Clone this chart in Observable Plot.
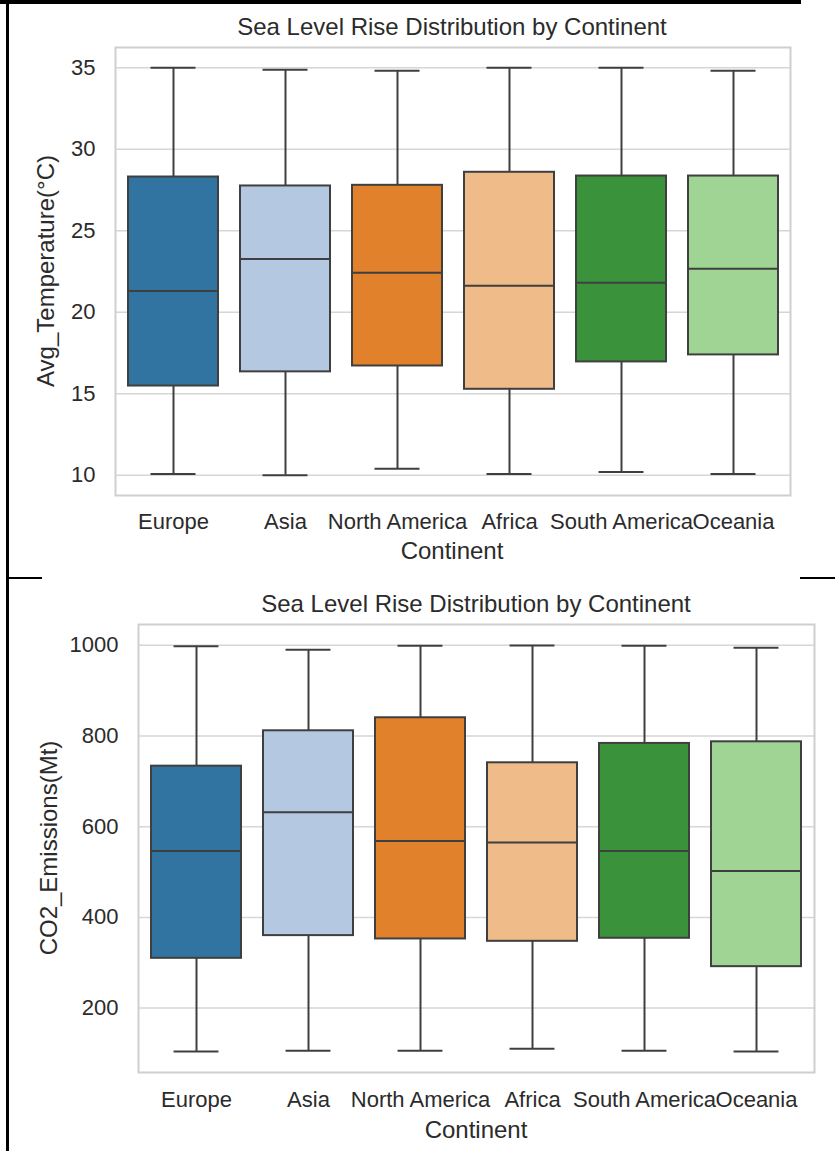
<!DOCTYPE html>
<html>
<head>
<meta charset="utf-8">
<script src="https://cdn.jsdelivr.net/npm/d3@7"></script>
<script src="https://cdn.jsdelivr.net/npm/@observablehq/plot@0.6"></script>
<style>
  html, body { margin: 0; padding: 0; background: #fff; }
  #page { position: relative; width: 835px; height: 1151px; overflow: hidden; background: #fff;
          font-family: "Liberation Sans", Arial, sans-serif; color: #2b2b2b; }
  .chart { position: absolute; left: 0; }
  .txt { position: absolute; white-space: nowrap; font-size: 24px; line-height: 1; transform: translate(-50%, -50%); }
  .ytxt { position: absolute; white-space: nowrap; font-size: 24px; line-height: 1; transform: translate(-50%, -50%) rotate(-90deg); }
  .rule { position: absolute; background: #000; }
</style>
</head>
<body>
<div id="page"></div>
<script>
// Continents, in drawing order
const continents = ["Europe", "Asia", "North America", "Africa", "South America", "Oceania"];

// Average temperature (°C): whisker ends, quartiles and median per continent
const tempMin    = [10.07, 10.00, 10.39, 10.07, 10.19, 10.07];
const tempQ1     = [15.47, 16.34, 16.70, 15.27, 16.95, 17.38];
const tempMedian = [21.31, 23.26, 22.42, 21.62, 21.81, 22.67];
const tempQ3     = [28.30, 27.75, 27.79, 28.59, 28.36, 28.36];
const tempMax    = [35.00, 34.88, 34.82, 35.00, 35.00, 34.82];
const tempTicks  = [10, 15, 20, 25, 30, 35];

// CO2 emissions (Mt): whisker ends, quartiles and median per continent
const co2Min    = [104.5, 106.0, 106.0, 110.4, 106.0, 104.5];
const co2Q1     = [309.8, 359.9, 352.5, 347.3, 354.0, 291.4];
const co2Median = [546.7, 632.1, 568.8, 565.1, 546.7, 502.6];
const co2Q3     = [733.6, 811.6, 840.3, 741.0, 783.7, 787.3];
const co2Max    = [997.8, 990.4, 999.3, 999.8, 999.3, 994.8];
const co2Ticks  = [200, 400, 600, 800, 1000];

// Box fills (muted tab20 pairs)
const palette = ["#3274a1", "#b5c8e1", "#e1812c", "#eebb89", "#3a923a", "#9fd495"];

const page = document.getElementById("page");
const LINE = "#3f3f3f";
const LW = 2;

function boxChart({min, q1, median, q3, max, yDomain, yTicks, top, height, marginTop, marginBottom, marginLeft, marginRight, xPad}) {
  const width = 835;
  const rows = continents.map((c, i) => ({continent: c, min: min[i], q1: q1[i], median: median[i], q3: q3[i], max: max[i]}));
  const step = (width - marginLeft - marginRight) / continents.length;
  const capInset = step * 0.8 / 4;
  const svg = Plot.plot({
    width, height, marginTop, marginBottom, marginLeft, marginRight,
    style: {fontFamily: '"Liberation Sans", Arial, sans-serif', fontSize: "22px", color: "#2b2b2b", background: "transparent", overflow: "visible"},
    x: {type: "band", domain: continents, paddingInner: 0.2, paddingOuter: 0.1, label: null},
    y: {domain: yDomain, label: null},
    color: {domain: continents, range: palette},
    marks: [
      Plot.gridY(yTicks, {stroke: "#d6d6d6", strokeOpacity: 1, strokeWidth: 1.5}),
      Plot.frame({stroke: "#cfcfcf", strokeWidth: 2}),
      Plot.axisY(yTicks, {tickSize: 0, tickPadding: 20, tickFormat: d => String(d), label: null}),
      Plot.axisX({tickSize: 0, tickPadding: xPad, label: null}),
      Plot.ruleX(rows, {x: "continent", y1: "min", y2: "q1", stroke: LINE, strokeWidth: LW}),
      Plot.ruleX(rows, {x: "continent", y1: "q3", y2: "max", stroke: LINE, strokeWidth: LW}),
      Plot.tickY(rows, {x: "continent", y: "min", insetLeft: capInset, insetRight: capInset, stroke: LINE, strokeWidth: LW}),
      Plot.tickY(rows, {x: "continent", y: "max", insetLeft: capInset, insetRight: capInset, stroke: LINE, strokeWidth: LW}),
      Plot.barY(rows, {x: "continent", y1: "q1", y2: "q3", fill: "continent", stroke: LINE, strokeWidth: LW}),
      Plot.tickY(rows, {x: "continent", y: "median", stroke: LINE, strokeWidth: LW})
    ]
  });
  const wrap = document.createElement("div");
  wrap.className = "chart";
  wrap.style.top = top + "px";
  wrap.appendChild(svg);
  page.appendChild(wrap);
}

function label(text, x, y, rotated) {
  const d = document.createElement("div");
  d.className = rotated ? "ytxt" : "txt";
  d.textContent = text;
  d.style.left = x + "px";
  d.style.top = y + "px";
  page.appendChild(d);
}

function rule(x, y, w, h) {
  const d = document.createElement("div");
  d.className = "rule";
  Object.assign(d.style, {left: x + "px", top: y + "px", width: w + "px", height: h + "px"});
  page.appendChild(d);
}

// Upper panel: temperature
boxChart({min: tempMin, q1: tempQ1, median: tempMedian, q3: tempQ3, max: tempMax,
  yDomain: [8.75, 36.25], yTicks: tempTicks, xPad: 18,
  top: 0, height: 578, marginTop: 47, marginBottom: 83, marginLeft: 115, marginRight: 45});
label("Sea Level Rise Distribution by Continent", 452, 27);
label("Avg_Temperature(°C)", 46, 271, true);
label("Continent", 452, 551);

// Lower panel: CO2 emissions
boxChart({min: co2Min, q1: co2Q1, median: co2Median, q3: co2Q3, max: co2Max,
  yDomain: [58, 1046], yTicks: co2Ticks, xPad: 19,
  top: 578, height: 573, marginTop: 46, marginBottom: 79, marginLeft: 138, marginRight: 21});
label("Sea Level Rise Distribution by Continent", 476, 604);
label("CO2_Emissions(Mt)", 49, 848, true);
label("Continent", 476, 1130);

// Panel border lines
rule(0, 0, 801, 4);
rule(6, 0, 3, 1151);
rule(8, 577, 34, 2);
rule(800, 577, 35, 2);
</script>
</body>
</html>
